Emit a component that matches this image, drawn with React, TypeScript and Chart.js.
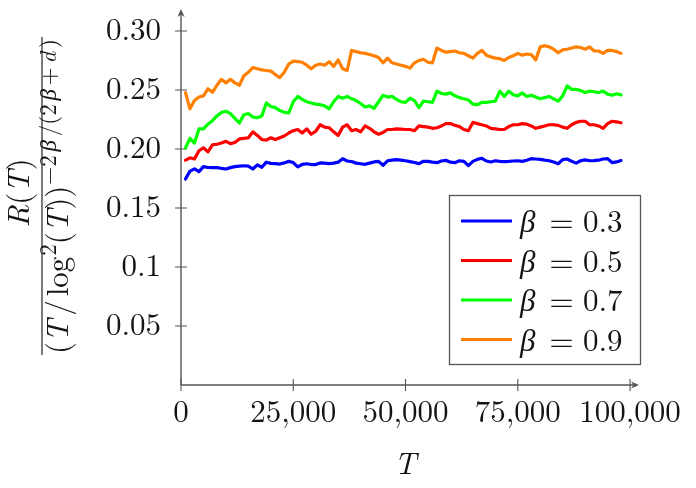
import { useEffect, useRef } from "react";
import { Chart, registerables } from "chart.js";
import type { Plugin } from "chart.js";

Chart.register(...registerables);

// Normalised regret R(T) / (T / log^2 T)^(-2β/(2β+d)), sampled every 1,000 rounds from T = 1,000
const T_STEP = 1000;

const R_BETA_03 = [
  0.1745, 0.1812, 0.1832, 0.1808, 0.185, 0.1843, 0.1842, 0.1843, 0.1836, 0.183,
  0.1842, 0.185, 0.1855, 0.1858, 0.1855, 0.183, 0.1865, 0.1845, 0.1888, 0.1878,
  0.1876, 0.1872, 0.1882, 0.1895, 0.1885, 0.1848, 0.187, 0.1875, 0.1868, 0.1868,
  0.1882, 0.188, 0.1876, 0.188, 0.1888, 0.1918, 0.1898, 0.1893, 0.188, 0.1875,
  0.187, 0.188, 0.189, 0.1895, 0.1862, 0.19, 0.1905, 0.191, 0.1905, 0.19,
  0.1893, 0.1885, 0.1876, 0.1896, 0.1895, 0.1888, 0.1884, 0.1898, 0.1904, 0.1888,
  0.1884, 0.19, 0.1895, 0.1858, 0.1895, 0.1912, 0.1921, 0.1898, 0.189, 0.19,
  0.1895, 0.1893, 0.1895, 0.1898, 0.19, 0.1895, 0.1905, 0.1918, 0.1915, 0.1912,
  0.1905, 0.19, 0.189, 0.1875, 0.191, 0.1915, 0.1895, 0.188, 0.19, 0.1908,
  0.19, 0.1902, 0.1905, 0.1915, 0.1918, 0.1885, 0.189, 0.1902,
];

const R_BETA_05 = [
  0.1905, 0.1925, 0.1915, 0.1985, 0.201, 0.1975, 0.2035, 0.204, 0.205, 0.2065,
  0.2045, 0.2055, 0.2085, 0.209, 0.2095, 0.2145, 0.2115, 0.208, 0.2075, 0.2095,
  0.208, 0.2095, 0.211, 0.2135, 0.2155, 0.2165, 0.2135, 0.217, 0.2125, 0.215,
  0.2205, 0.2185, 0.218, 0.2145, 0.2115, 0.2185, 0.2205, 0.2155, 0.2165, 0.2145,
  0.2195, 0.2175, 0.2145, 0.2125, 0.214, 0.2165, 0.2165, 0.217, 0.2168, 0.2165,
  0.2165, 0.2155, 0.2195, 0.219, 0.2185, 0.2175, 0.218, 0.2195, 0.2215, 0.2215,
  0.22, 0.219, 0.2165, 0.2155, 0.2225, 0.2215, 0.2205, 0.2195, 0.2175, 0.217,
  0.2165, 0.2165, 0.219, 0.2205, 0.2205, 0.2215, 0.221, 0.2195, 0.2175, 0.2185,
  0.2195, 0.2205, 0.2205, 0.22, 0.2185, 0.2175, 0.2205, 0.2225, 0.2235, 0.2235,
  0.2205, 0.2205, 0.2195, 0.2175, 0.2215, 0.2235, 0.223, 0.2222,
];

const R_BETA_07 = [
  0.201, 0.209, 0.205, 0.217, 0.217, 0.221, 0.224, 0.228, 0.231, 0.232,
  0.23, 0.226, 0.222, 0.229, 0.23, 0.227, 0.2265, 0.228, 0.239, 0.236,
  0.235, 0.2325, 0.231, 0.2305, 0.24, 0.2445, 0.242, 0.24, 0.239, 0.238,
  0.2375, 0.2365, 0.234, 0.24, 0.2445, 0.243, 0.2445, 0.2425, 0.241, 0.2385,
  0.2355, 0.2365, 0.2345, 0.24, 0.2455, 0.244, 0.2445, 0.242, 0.24, 0.2395,
  0.243, 0.241, 0.235, 0.2405, 0.24, 0.2395, 0.249, 0.247, 0.2465, 0.2475,
  0.245, 0.2435, 0.2425, 0.2415, 0.238, 0.2375, 0.2395, 0.2395, 0.24, 0.2405,
  0.249, 0.2445, 0.249, 0.246, 0.245, 0.2475, 0.2445, 0.2455, 0.244, 0.2425,
  0.2435, 0.2445, 0.2425, 0.2405, 0.245, 0.2535, 0.2505, 0.2505, 0.2495, 0.2478,
  0.249, 0.2485, 0.2478, 0.249, 0.2465, 0.2455, 0.2468, 0.2458,
];

const R_BETA_09 = [
  0.2477, 0.234, 0.241, 0.244, 0.245, 0.251, 0.248, 0.254, 0.259, 0.256,
  0.259, 0.256, 0.254, 0.262, 0.265, 0.269, 0.268, 0.267, 0.2665, 0.266,
  0.263, 0.2605, 0.265, 0.272, 0.2745, 0.274, 0.2735, 0.271, 0.268, 0.271,
  0.272, 0.271, 0.274, 0.27, 0.2755, 0.268, 0.2665, 0.2835, 0.2825, 0.2815,
  0.281, 0.28, 0.279, 0.2775, 0.273, 0.277, 0.273, 0.272, 0.271, 0.27,
  0.2685, 0.273, 0.275, 0.276, 0.2735, 0.273, 0.2855, 0.2835, 0.282, 0.2825,
  0.283, 0.2815, 0.281, 0.279, 0.277, 0.281, 0.2835, 0.2795, 0.278, 0.277,
  0.2765, 0.275, 0.2775, 0.279, 0.281, 0.2795, 0.2805, 0.28, 0.2755, 0.2865,
  0.2875, 0.2865, 0.2845, 0.2815, 0.284, 0.2845, 0.2855, 0.2865, 0.286, 0.2845,
  0.2865, 0.283, 0.283, 0.281, 0.2835, 0.2835, 0.2825, 0.281,
];

const SERIES = [R_BETA_03, R_BETA_05, R_BETA_07, R_BETA_09];
const BETA_VALUES = ["0.3", "0.5", "0.7", "0.9"];
const SERIES_COLORS = ["#0000ff", "#ff0000", "#00ff00", "#ff8000"];

const X_TICKS = [0, 25000, 50000, 75000, 100000];
const X_TICK_LABELS = ["0", "25,000", "50,000", "75,000", "100,000"];
const Y_TICKS = [0.05, 0.1, 0.15, 0.2, 0.25, 0.3];
const Y_TICK_LABELS = ["0.05", "0.1", "0.15", "0.20", "0.25", "0.30"];
const X_MAX = 102000;
const Y_MAX = 0.3186;

// Canvas geometry
const W = 696;
const H = 488;
const AREA = { left: 181, top: 9, right: 639, bottom: 385 };
const SERIF = '"Latin Modern Roman", "Liberation Serif", serif';
const FONT_SIZE = 31;
const SCRIPT_SIZE = 23;
const TEXT_COLOR = "#141414";
const AXIS_COLOR = "#555555";

// Legend box and y-title placement
const LEGEND = { left: 449, top: 195, right: 641, bottom: 365, lineX0: 461, lineX1: 512, textX: 520, firstRow: 221, rowGap: 39.5 };
const Y_TITLE = { barX: 42, centerY: 196, halfLen: 159, numBaseline: -13, denBaseline: 26, raise: 12 };

type Piece = { text: string; italic?: boolean; script?: boolean; pad?: number };

const NUMERATOR: Piece[] = [
  { text: "R", italic: true },
  { text: "(" },
  { text: "T", italic: true },
  { text: ")" },
];

const DENOMINATOR_BASE: Piece[] = [
  { text: "(" },
  { text: "T", italic: true },
  { text: "/", pad: 4 },
  { text: "log", pad: 4 },
  { text: "2", script: true, pad: 1 },
  { text: "(" },
  { text: "T", italic: true },
  { text: "))" },
];

const DENOMINATOR_EXPONENT: Piece[] = [
  { text: "−2", script: true },
  { text: "β", italic: true, script: true },
  { text: "/(2", script: true },
  { text: "β", italic: true, script: true },
  { text: "+", script: true },
  { text: "d", italic: true, script: true },
  { text: ")", script: true },
];

function pieceFont(p: Piece) {
  return `${p.italic ? "italic " : ""}${p.script ? SCRIPT_SIZE : FONT_SIZE}px ${SERIF}`;
}

function runWidth(ctx: CanvasRenderingContext2D, pieces: Piece[]) {
  let w = 0;
  for (const p of pieces) {
    ctx.font = pieceFont(p);
    w += ctx.measureText(p.text).width + (p.pad ?? 0);
  }
  return w;
}

// Draws a run of pieces; with len > 0 the spare room is spread between the pieces
function drawRun(ctx: CanvasRenderingContext2D, pieces: Piece[], x0: number, baseline: number, raise: number, len: number) {
  const natural = runWidth(ctx, pieces);
  const gap = len > 0 && pieces.length > 1 ? Math.max(0, (len - natural) / (pieces.length - 1)) : 0;
  let x = x0;
  pieces.forEach((p, i) => {
    if (i > 0) x += gap;
    x += p.pad ?? 0;
    ctx.font = pieceFont(p);
    ctx.fillText(p.text, x, baseline - (p.script ? raise : 0));
    x += ctx.measureText(p.text).width;
  });
  return x;
}

function arrowHead(ctx: CanvasRenderingContext2D, tipX: number, tipY: number, dx: number, dy: number) {
  const len = 8;
  const half = 3.6;
  const notch = 2.4;
  const px = -dy;
  const py = dx;
  ctx.beginPath();
  ctx.moveTo(tipX, tipY);
  ctx.lineTo(tipX - dx * len + px * half, tipY - dy * len + py * half);
  ctx.lineTo(tipX - dx * (len - notch), tipY - dy * (len - notch));
  ctx.lineTo(tipX - dx * len - px * half, tipY - dy * len - py * half);
  ctx.closePath();
  ctx.fill();
}

const pgfAxesPlugin: Plugin<"line"> = {
  id: "pgfAxes",
  beforeDatasetsDraw(chart) {
    const { ctx, chartArea: a } = chart;
    const xs = chart.scales.x;
    const ys = chart.scales.y;
    ctx.save();
    ctx.strokeStyle = AXIS_COLOR;
    ctx.fillStyle = AXIS_COLOR;
    ctx.lineWidth = 1.4;
    ctx.beginPath();
    ctx.moveTo(a.left, a.bottom);
    ctx.lineTo(a.left, a.top + 5);
    ctx.moveTo(a.left, a.bottom);
    ctx.lineTo(a.right - 5, a.bottom);
    ctx.stroke();
    arrowHead(ctx, a.left, a.top, 0, -1);
    arrowHead(ctx, a.right, a.bottom, 1, 0);

    ctx.lineWidth = 1.1;
    ctx.beginPath();
    for (const v of Y_TICKS) {
      const y = ys.getPixelForValue(v);
      ctx.moveTo(a.left - 6, y);
      ctx.lineTo(a.left + 6, y);
    }
    for (const v of X_TICKS) {
      const x = xs.getPixelForValue(v);
      ctx.moveTo(x, a.bottom - 6);
      ctx.lineTo(x, a.bottom + 6);
    }
    ctx.stroke();
    ctx.restore();
  },
  afterDraw(chart) {
    const { ctx } = chart;
    ctx.save();

    // Legend
    ctx.fillStyle = "#ffffff";
    ctx.fillRect(LEGEND.left, LEGEND.top, LEGEND.right - LEGEND.left, LEGEND.bottom - LEGEND.top);
    ctx.strokeStyle = AXIS_COLOR;
    ctx.lineWidth = 1.3;
    ctx.strokeRect(LEGEND.left + 0.5, LEGEND.top + 0.5, LEGEND.right - LEGEND.left - 1, LEGEND.bottom - LEGEND.top - 1);
    chart.data.datasets.forEach((ds, i) => {
      const y = LEGEND.firstRow + i * LEGEND.rowGap;
      ctx.strokeStyle = ds.borderColor as string;
      ctx.lineWidth = 3;
      ctx.beginPath();
      ctx.moveTo(LEGEND.lineX0, y);
      ctx.lineTo(LEGEND.lineX1, y);
      ctx.stroke();
      ctx.fillStyle = TEXT_COLOR;
      ctx.textBaseline = "alphabetic";
      ctx.textAlign = "left";
      ctx.font = `italic ${FONT_SIZE}px ${SERIF}`;
      ctx.fillText("β", LEGEND.textX, y + 11);
      ctx.font = `${FONT_SIZE}px ${SERIF}`;
      ctx.textAlign = "center";
      ctx.fillText("=", LEGEND.textX + 41.5, y + 11);
      ctx.textAlign = "left";
      ctx.fillText(BETA_VALUES[i], LEGEND.textX + 63, y + 11);
    });

    // x-axis title
    ctx.fillStyle = TEXT_COLOR;
    ctx.font = `italic ${FONT_SIZE}px ${SERIF}`;
    ctx.textAlign = "center";
    ctx.textBaseline = "alphabetic";
    ctx.fillText("T", 405, 474);

    // y-axis title: rotated fraction
    ctx.translate(Y_TITLE.barX, Y_TITLE.centerY);
    ctx.rotate(-Math.PI / 2);
    ctx.textAlign = "left";
    ctx.strokeStyle = "#222222";
    ctx.lineWidth = 1.2;
    ctx.beginPath();
    ctx.moveTo(-Y_TITLE.halfLen, 0);
    ctx.lineTo(Y_TITLE.halfLen, 0);
    ctx.stroke();

    const numW = runWidth(ctx, NUMERATOR);
    drawRun(ctx, NUMERATOR, 3 - numW / 2, Y_TITLE.numBaseline, 0, 0);

    const start = -Y_TITLE.halfLen + 1;
    const baseEnd = drawRun(ctx, DENOMINATOR_BASE, start, Y_TITLE.denBaseline, Y_TITLE.raise, 0);
    const expStart = baseEnd + 1;
    drawRun(ctx, DENOMINATOR_EXPONENT, expStart, Y_TITLE.denBaseline, Y_TITLE.raise, Y_TITLE.halfLen - 2 - expStart);

    ctx.restore();
  },
};

export default function App() {
  const canvasRef = useRef<HTMLCanvasElement | null>(null);

  useEffect(() => {
    const canvas = canvasRef.current;
    if (!canvas) return;

    const chart = new Chart(canvas, {
      type: "line",
      data: {
        datasets: SERIES.map((values, si) => ({
          label: `β = ${BETA_VALUES[si]}`,
          data: values.map((v, i) => ({ x: (i + 1) * T_STEP, y: v })),
          borderColor: SERIES_COLORS[si],
          backgroundColor: SERIES_COLORS[si],
          borderWidth: 3.2,
          pointRadius: 0,
          tension: 0,
          fill: false,
          borderJoinStyle: "round" as const,
          borderCapStyle: "round" as const,
        })),
      },
      options: {
        responsive: false,
        animation: false,
        layout: { padding: { left: 0, top: AREA.top, right: W - AREA.right, bottom: 0 } },
        plugins: { legend: { display: false }, tooltip: { enabled: false } },
        scales: {
          x: {
            type: "linear",
            position: "bottom",
            min: 0,
            max: X_MAX,
            grid: { display: false, drawTicks: false },
            border: { display: false },
            afterBuildTicks: (scale) => {
              scale.ticks = X_TICKS.map((value) => ({ value }));
            },
            afterFit: (scale) => {
              scale.height = H - AREA.bottom;
              scale.paddingLeft = 0;
              scale.paddingRight = 0;
            },
            ticks: {
              autoSkip: false,
              maxRotation: 0,
              minRotation: 0,
              padding: 9,
              color: TEXT_COLOR,
              font: { family: SERIF, size: FONT_SIZE },
              callback: (_v, i) => X_TICK_LABELS[i],
            },
          },
          y: {
            type: "linear",
            position: "left",
            min: 0,
            max: Y_MAX,
            grid: { display: false, drawTicks: false },
            border: { display: false },
            afterBuildTicks: (scale) => {
              scale.ticks = Y_TICKS.map((value) => ({ value }));
            },
            afterFit: (scale) => {
              scale.width = AREA.left;
              scale.paddingTop = 0;
              scale.paddingBottom = 0;
            },
            ticks: {
              autoSkip: false,
              padding: 20,
              crossAlign: "near",
              color: TEXT_COLOR,
              font: { family: SERIF, size: FONT_SIZE },
              callback: (_v, i) => Y_TICK_LABELS[i],
            },
          },
        },
      },
      plugins: [pgfAxesPlugin],
    });

    // Redraw once the serif faces are available to the canvas
    let alive = true;
    const faces = [`${FONT_SIZE}px ${SERIF}`, `italic ${FONT_SIZE}px ${SERIF}`, `${SCRIPT_SIZE}px ${SERIF}`, `italic ${SCRIPT_SIZE}px ${SERIF}`];
    const redraw = () => {
      if (alive) chart.update();
    };
    if (document.fonts) {
      Promise.all(faces.map((f) => document.fonts.load(f, "0.25,Tβ=Rlogd+−")))
        .catch(() => undefined)
        .then(redraw);
      document.fonts.ready.then(redraw);
    }

    return () => {
      alive = false;
      chart.destroy();
    };
  }, []);

  return (
    <div style={{ position: "fixed", left: 0, top: 0, width: W, height: H, background: "#ffffff" }}>
      <canvas ref={canvasRef} width={W} height={H} style={{ display: "block", width: W, height: H }} />
    </div>
  );
}
